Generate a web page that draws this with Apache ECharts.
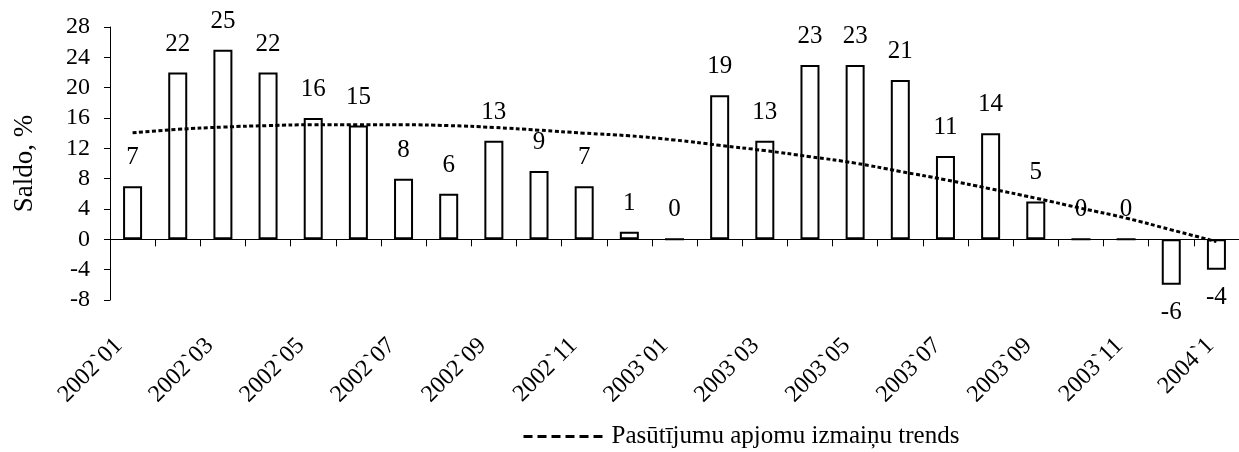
<!DOCTYPE html>
<html>
<head>
<meta charset="utf-8">
<script src="https://cdn.jsdelivr.net/npm/echarts@6/dist/echarts.min.js"></script>
<style>
  html, body { margin: 0; padding: 0; background: #fff; }
  #main { width: 1239px; height: 452px; }
</style>
</head>
<body>
<div id="main"></div>
<script>
// months
var categories = ['2002`01', '2002`02', '2002`03', '2002`04', '2002`05', '2002`06', '2002`07', '2002`08', '2002`09', '2002`10', '2002`11', '2002`12',
	'2003`01', '2003`02', '2003`03', '2003`04', '2003`05', '2003`06', '2003`07', '2003`08', '2003`09', '2003`10', '2003`11', '2003`12', '2004`1'];
// saldo, %
var saldo = [7, 22, 25, 22, 16, 15, 8, 6, 13, 9, 7, 1, 0, 19, 13, 23, 23, 21, 11, 14, 5, 0, 0, -6, -4];
// trend line
var trend = [14.05, 14.5, 14.8, 15.0, 15.1, 15.1, 15.1, 15.0, 14.75, 14.4, 14.0, 13.65, 13.1, 12.4, 11.7, 10.9, 10.05, 8.95, 7.85, 6.66, 5.43, 4.1, 2.8, 1.25, -0.3];
var yTicks = { min: -8, max: 28, interval: 4 };
var trendName = 'Pasūtījumu apjomu izmaiņu trends';

var font = '"Liberation Serif", "Times New Roman", Times, serif';
var myChart = echarts.init(document.getElementById('main'));

var option = {
	animation: false,
	textStyle: { fontFamily: font, color: '#000' },
	grid: [
		{ left: 110, top: 27, bottom: 152, width: 1137 },
		// only carries the rotated month labels
		{ left: 96, top: 27, bottom: 152, width: 1137 }
	],
	legend: {
		data: [trendName],
		left: 522,
		top: 424,
		padding: 0,
		itemWidth: 83,
		itemHeight: 14,
		itemGap: 5,
		itemStyle: { opacity: 0 },
		lineStyle: { type: [9, 5], width: 3 },
		textStyle: { fontFamily: font, fontSize: 25, color: '#000' }
	},
	xAxis: [{
		type: 'category',
		gridIndex: 0,
		data: categories,
		axisLine: { onZero: true, lineStyle: { color: '#000', width: 1 } },
		axisTick: { show: true, interval: 0, length: 7, lineStyle: { color: '#000' } },
		axisLabel: { show: false }
	}, {
		type: 'category',
		gridIndex: 1,
		data: categories,
		axisLine: { show: false },
		axisTick: { show: false },
		axisLabel: {
			interval: 1,
			rotate: 45,
			margin: 42,
			fontFamily: font,
			fontSize: 24,
			color: '#000'
		}
	}],
	yAxis: [{
		type: 'value',
		gridIndex: 0,
		min: yTicks.min,
		max: yTicks.max,
		interval: yTicks.interval,
		name: 'Saldo, %',
		nameLocation: 'middle',
		nameGap: 72,
		nameTextStyle: { fontFamily: font, fontSize: 27, color: '#000' },
		axisLine: { show: true, lineStyle: { color: '#000', width: 1 } },
		axisTick: { show: true, length: 6, lineStyle: { color: '#000' } },
		axisLabel: { margin: 20, fontFamily: font, fontSize: 24, color: '#000' },
		splitLine: { show: false }
	}, {
		type: 'value',
		gridIndex: 1,
		min: yTicks.min,
		max: yTicks.max,
		show: false
	}],
	series: [{
		name: 'Saldo',
		type: 'bar',
		xAxisIndex: 0,
		yAxisIndex: 0,
		data: saldo,
		barWidth: 19,
		itemStyle: { color: '#fff', borderColor: '#000', borderWidth: 2 },
		label: {
			show: true,
			position: 'top',
			distance: 16,
			fontFamily: font,
			fontSize: 25,
			color: '#000'
		},
		z: 2
	}, {
		name: trendName,
		type: 'line',
		xAxisIndex: 0,
		yAxisIndex: 0,
		data: trend,
		symbol: 'none',
		smooth: true,
		lineStyle: { color: '#000', width: 3, type: [4, 2.5] },
		itemStyle: { color: '#000' },
		z: 3
	}]
};

// negative bars get their label underneath
option.series[0].data = saldo.map(function (v) {
	return v < 0 ? { value: v, label: { position: 'bottom', distance: 15 } } : v;
});

myChart.setOption(option);
</script>
</body>
</html>
